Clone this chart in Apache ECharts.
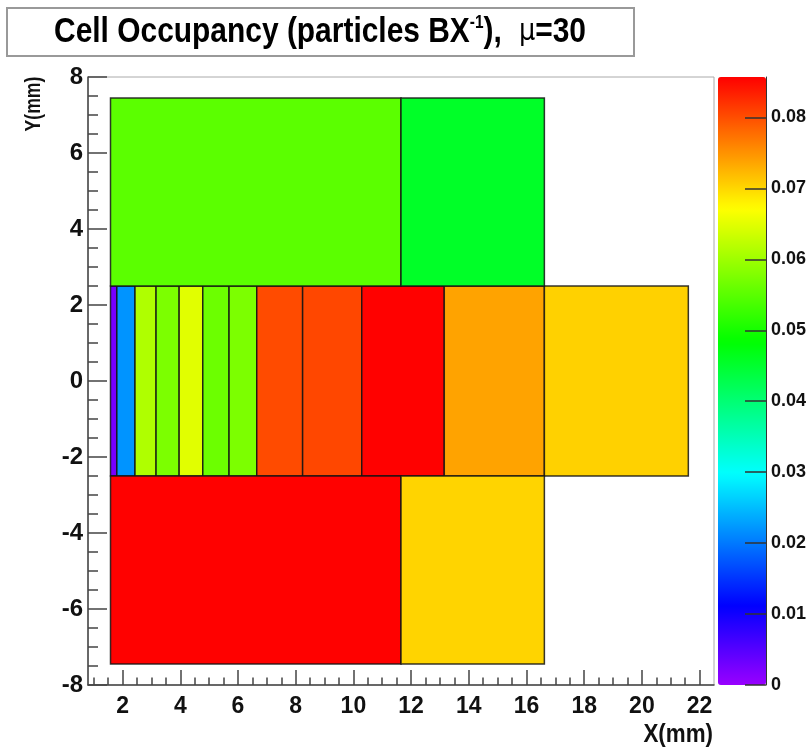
<!DOCTYPE html>
<html><head><meta charset="utf-8">
<script src="https://cdn.jsdelivr.net/npm/echarts@6/dist/echarts.min.js"></script>
<style>html,body{margin:0;padding:0;background:#fff}#c{width:809px;height:750px}</style>
</head><body><div id="c"></div>
<script>
// ---- data ----
// x edges (mm) of the central row of cells, y from -2.5 to 2.5
const stripEdges = [1.58, 1.8, 2.43, 3.16, 3.96, 4.78, 5.69, 6.65, 8.24, 10.29, 13.15, 16.62, 21.61];
const stripOcc   = [0.0024, 0.022, 0.0612, 0.0575, 0.0649, 0.0563, 0.0575, 0.0802, 0.0805, 0.0856, 0.0738, 0.0704];
const stripY = [-2.5, 2.5];
// upper and lower rows
const outerEdges = [1.58, 11.65, 16.62];
const topOcc = [0.0551, 0.0455];
const topY = [2.5, 7.45];
const bottomOcc = [0.0856, 0.0702];
const bottomY = [-7.45, -2.5];
// axes
const xRange = [0.8, 22.5];
const yRange = [-8, 8];
const xMajorTicks = [2, 4, 6, 8, 10, 12, 14, 16, 18, 20, 22];
const xMinorTicks = [1, 1.5, 2.5, 3, 3.5, 4.5, 5, 5.5, 6.5, 7, 7.5, 8.5, 9, 9.5, 10.5, 11, 11.5, 12.5, 13, 13.5, 14.5, 15, 15.5, 16.5, 17, 17.5, 18.5, 19, 19.5, 20.5, 21, 21.5];
const zRange = [0, 0.0857];
const zTicks = [0, 0.01, 0.02, 0.03, 0.04, 0.05, 0.06, 0.07, 0.08];

// ---- build cells ----
const cells = [];
for (let i = 0; i < stripOcc.length; i++) cells.push([stripEdges[i], stripEdges[i+1], stripY[0], stripY[1], stripOcc[i]]);
for (let i = 0; i < topOcc.length; i++) cells.push([outerEdges[i], outerEdges[i+1], topY[0], topY[1], topOcc[i]]);
for (let i = 0; i < bottomOcc.length; i++) cells.push([outerEdges[i], outerEdges[i+1], bottomY[0], bottomY[1], bottomOcc[i]]);

// ROOT-like rainbow palette (violet at low values -> red at high values)
function hsl2rgb(h) {
  const f = n => { const k = (n + h / 30) % 12; const v = 0.5 - 0.5 * Math.max(-1, Math.min(k - 3, 9 - k, 1)); return Math.round(v * 255); };
  return 'rgb(' + f(0) + ',' + f(8) + ',' + f(4) + ')';
}
const palette = [];
for (let h = 276; h >= 0; h -= 4) palette.push(hsl2rgb(h));

const FONT = '"Liberation Sans Narrow","Arial Narrow","Liberation Sans",Arial,sans-serif';
const TICK = {color: '#444', width: 1.5};
const chart = echarts.init(document.getElementById('c'), null, {renderer: 'canvas'});
chart.setOption({
  animation: false,
  backgroundColor: '#fff',
  grid: [
    {left: 88, top: 77, width: 626, height: 608, show: true, borderColor: '#aaa', borderWidth: 1, backgroundColor: 'transparent'},
    {left: 718, top: 77, width: 48, height: 608, show: false}
  ],
  xAxis: [
    {type: 'value', gridIndex: 0, min: xRange[0], max: xRange[1], position: 'bottom',
     axisLine: {show: true, onZero: false, lineStyle: TICK},
     axisTick: {show: true, inside: true, length: 15, customValues: xMajorTicks, lineStyle: TICK},
     axisLabel: {customValues: xMajorTicks, fontFamily: FONT, fontWeight: 'bold', fontSize: 23, color: '#111', margin: 10},
     splitLine: {show: false}},
    {type: 'value', gridIndex: 0, min: xRange[0], max: xRange[1], position: 'bottom',
     axisLine: {show: false, onZero: false},
     axisTick: {show: true, inside: true, length: 7.5, customValues: xMinorTicks, lineStyle: TICK},
     axisLabel: {show: false}, splitLine: {show: false}},
    {type: 'value', gridIndex: 1, show: false, min: 0, max: 1}
  ],
  yAxis: [
    {type: 'value', gridIndex: 0, min: yRange[0], max: yRange[1], interval: 2, position: 'left',
     axisLine: {show: true, onZero: false, lineStyle: TICK},
     axisTick: {show: true, inside: true, length: 19, lineStyle: TICK},
     minorTick: {show: true, splitNumber: 4, length: 10, lineStyle: TICK},
     axisLabel: {fontFamily: FONT, fontWeight: 'bold', fontSize: 24, color: '#111', margin: 5},
     splitLine: {show: false}},
    {type: 'value', gridIndex: 1, min: zRange[0], max: zRange[1], position: 'right', z: 20,
     axisLine: {show: true, onZero: false, lineStyle: {color: '#333', width: 1}},
     axisTick: {show: true, inside: true, length: 21, customValues: zTicks, lineStyle: {color: '#333', width: 1.5}},
     axisLabel: {customValues: zTicks, fontFamily: FONT, fontWeight: 'bold', fontSize: 18, color: '#111', margin: 5,
       formatter: v => v === 0 ? '0' : v.toFixed(2)},
     splitLine: {show: false}}
  ],
  visualMap: {
    type: 'continuous', min: zRange[0], max: zRange[1], dimension: 4, seriesIndex: 0, z: 1,
    orient: 'vertical', left: 718, top: 77, itemWidth: 48, itemHeight: 608, padding: 0,
    calculable: false, text: null, showLabel: false, hoverLink: false,
    inRange: {color: palette}
  },
  series: [{
    type: 'custom', xAxisIndex: 0, yAxisIndex: 0, clip: true,
    encode: {x: [0, 1], y: [2, 3]},
    data: cells,
    renderItem: function (params, api) {
      const p0 = api.coord([api.value(0), api.value(3)]);
      const p1 = api.coord([api.value(1), api.value(2)]);
      return {type: 'rect', shape: {x: p0[0], y: p0[1], width: p1[0] - p0[0], height: p1[1] - p0[1]},
        style: {fill: api.visual('color'), stroke: 'rgba(20,20,20,0.85)', lineWidth: 1.5}};
    }
  }],
  graphic: [
    {type: 'rect', left: 6, top: 7, shape: {width: 627, height: 48}, style: {fill: '#fff', stroke: '#999', lineWidth: 2}, z: 10},
    {type: 'text', x: 320, y: 32, scaleX: 0.855, z: 11, style: {
      text: '{a|Cell Occupancy (particles BX}{s|-1}{a|),}{m|μ}{a|=30}',
      align: 'center', verticalAlign: 'middle',
      rich: {
        a: {fontFamily: FONT, fontWeight: 'bold', fontSize: 35, fill: '#000'},
        s: {fontFamily: FONT, fontWeight: 'bold', fontSize: 18, fill: '#000', verticalAlign: 'top'},
        m: {fontFamily: '"DejaVu Sans","Liberation Sans",sans-serif', fontSize: 30, fill: '#000', padding: [0, 0, 0, 20]}
      }}},
    {type: 'text', x: 713, y: 735, scaleX: 0.86, z: 11, style: {text: 'X(mm)', align: 'right', verticalAlign: 'middle', fontFamily: FONT, fontWeight: 'bold', fontSize: 26, fill: '#111'}},
    {type: 'text', x: 34, y: 104, rotation: Math.PI / 2, scaleX: 0.8, z: 11, style: {text: 'Y(mm)', align: 'center', verticalAlign: 'middle', fontFamily: FONT, fontWeight: 'bold', fontSize: 22, fill: '#111'}}
  ]
});
</script>
</body></html>
